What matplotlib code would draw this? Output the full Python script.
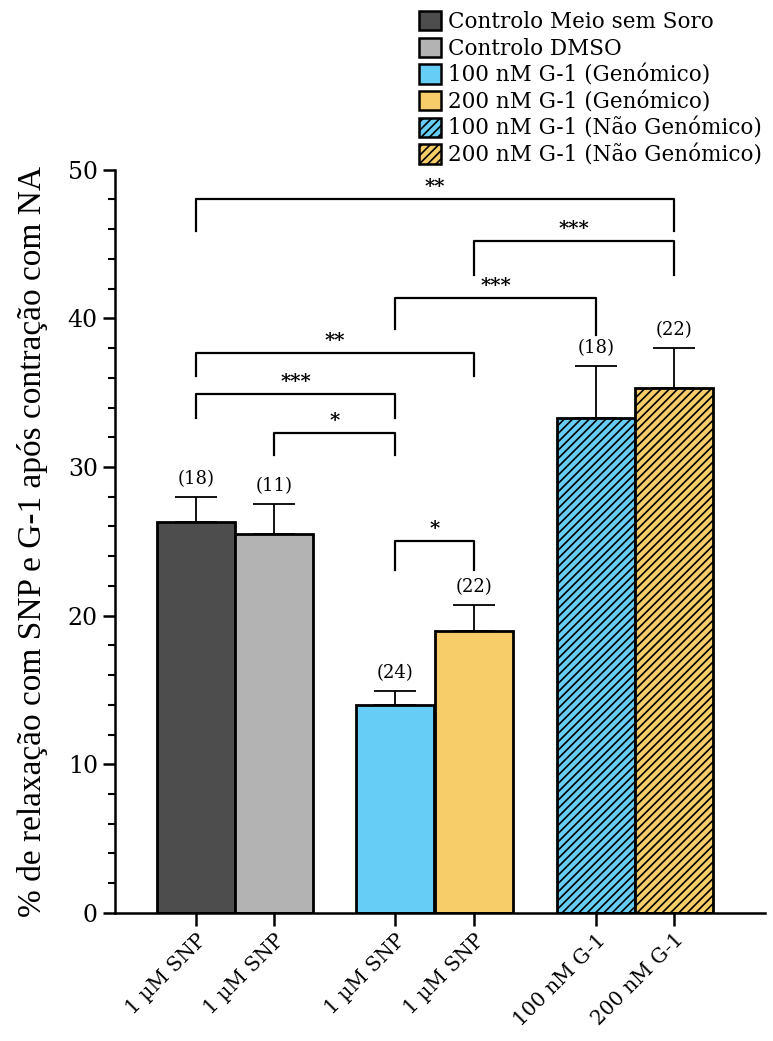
import matplotlib.pyplot as plt
from matplotlib.patches import Patch
from matplotlib.ticker import MultipleLocator

# bar data
xticklabels = ["1 µM SNP", "1 µM SNP", "1 µM SNP", "1 µM SNP", "100 nM G-1", "200 nM G-1"]
legend_labels = ["Controlo Meio sem Soro", "Controlo DMSO", "100 nM G-1 (Genómico)",
                 "200 nM G-1 (Genómico)", "100 nM G-1 (Não Genómico)", "200 nM G-1 (Não Genómico)"]
means = [26.3, 25.5, 14.0, 19.0, 33.3, 35.3]
sems = [1.7, 2.0, 0.9, 1.7, 3.5, 2.7]
n_labels = ["(18)", "(11)", "(24)", "(22)", "(18)", "(22)"]
positions = [0, 1, 2.55, 3.56, 5.12, 6.12]
colors = ["#4d4d4d", "#b3b3b3", "#66cdf6", "#f7cd6a", "#66cdf6", "#f7cd6a"]
hatches = ["", "", "", "", "////", "////"]

# significance brackets: (bar i, bar j, height, leg bottom left, leg bottom right, label)
brackets = [
    (0, 5, 48.0, 45.9, 45.9, "**"),
    (3, 5, 45.2, 42.9, 42.9, "***"),
    (2, 4, 41.4, 39.3, 38.9, "***"),
    (0, 3, 37.7, 36.1, 36.1, "**"),
    (0, 2, 34.9, 33.3, 33.3, "***"),
    (1, 2, 32.3, 30.8, 30.8, "*"),
    (2, 3, 25.0, 23.1, 23.1, "*"),
]

plt.rcParams['font.family'] = ['DejaVu Serif']
plt.rcParams['hatch.linewidth'] = 1.2

fig = plt.figure(figsize=(7.73, 10.41), dpi=100)
ax = fig.add_axes([0.149, 0.123, 0.841, 0.714])

# error bars (upper only) drawn below bars
ax.errorbar(positions, means, yerr=[[0] * 6, sems], fmt="none", ecolor="black",
            elinewidth=1.3, capsize=15, capthick=1.3, zorder=1)
for x, m, c, h in zip(positions, means, colors, hatches):
    ax.bar(x, m, width=1.0, color=c, edgecolor="black", linewidth=2.0, hatch=h, zorder=2)

for x, m, s, t in zip(positions, means, sems, n_labels):
    ax.text(x, m + s + 0.6, t, ha="center", va="bottom", fontsize=13)

for i, j, y, yl, yr, lab in brackets:
    xi, xj = positions[i], positions[j]
    ax.plot([xi, xi, xj, xj], [yl, y, y, yr], color="black", lw=1.6, zorder=3)
    ax.text((xi + xj) / 2, y + 0.2, lab, ha="center", va="bottom", fontsize=14, fontweight="bold")

ax.set_xlim(-1.04, 7.29)
ax.set_ylim(0, 50)
ax.yaxis.set_major_locator(MultipleLocator(10))
ax.yaxis.set_minor_locator(MultipleLocator(2))
ax.set_xticks(positions)
ax.set_xticklabels(xticklabels, rotation=45, ha="right", rotation_mode="anchor", fontsize=14.5)
ax.tick_params(axis="y", which="major", length=9, width=1.8, labelsize=17)
ax.tick_params(axis="y", which="minor", length=5, width=1.5)
ax.tick_params(axis="x", length=9, width=1.8)
for side in ["top", "right"]:
    ax.spines[side].set_visible(False)
for side in ["left", "bottom"]:
    ax.spines[side].set_linewidth(1.8)

ax.set_ylabel("% de relaxação com SNP e G-1 após contração com NA",
              fontsize=24, family="Liberation Serif", labelpad=14)

handles = [Patch(facecolor=c, edgecolor="black", linewidth=1.8, hatch=h)
           for c, h in zip(colors, hatches)]
fig.legend(handles, legend_labels, loc="upper right", bbox_to_anchor=(1.0, 1.0),
           frameon=False, fontsize=15.5, handlelength=1.0, handleheight=1.0,
           handletextpad=0.35, labelspacing=0.22, borderaxespad=0.1)

fig.savefig("out.png", dpi=100)
